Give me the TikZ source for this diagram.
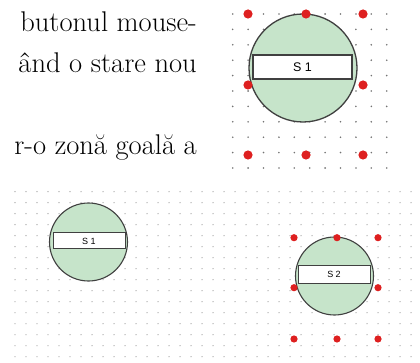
\documentclass[tikz,border=0pt]{standalone}
\usepackage{fontspec}
\newfontfamily\labelfont{Liberation Sans}
\usetikzlibrary{positioning}
\definecolor{stategreen}{RGB}{198,228,202}
\definecolor{handlered}{RGB}{222,32,32}
\tikzset{
  bodytext/.style={anchor=base east, inner sep=0pt, font=\fontsize{28.5}{28.5}\selectfont\addfontfeatures{FakeBold=0.4}},
  statecircle/.style={draw=black!75, circle, fill=stategreen, inner sep=0pt},
  namebox/.style={draw=black!75, fill=white, inner sep=0pt, font=\labelfont},
  handle/.style={fill=handlered},
  bigdot/.style={fill=black!55},
  smalldot/.style={fill=black!35}
}

\begin{document}
\begin{tikzpicture}[x=1pt, y=-1pt]
  \useasboundingbox (0,0) rectangle (420,363);
  \clip (0,0) rectangle (420,363);

  \node[bodytext] (line1) at (197,32) {butonul mouse-};
  \node[bodytext] (line2) at (197,73) {ând o stare nou};
  \node[bodytext] (line3) at (197,155) {r-o zonă goală a};

  \foreach \i in {0,...,10}
    \foreach \j in {0,...,10}
      \fill[bigdot] (232.7+15.4*\i, 14+15.4*\j) circle (0.9);

  \node[statecircle, line width=1.3pt, minimum size=108pt] (s1big) at (303,68) {};
  \node[namebox, line width=1.2pt, minimum width=99pt, minimum height=24pt, font=\labelfont\fontsize{12.5}{12.5}\selectfont] (s1bigname) at (302.5,67) {S 1};

  \foreach \x in {248,306,363}
    \foreach \y in {14,155}
      \fill[handle] (\x,\y) circle (4.6);
  \fill[handle] (248,85) circle (4.6);
  \fill[handle] (363,85) circle (4.6);

  \foreach \i in {0,...,36}
    \foreach \j in {0,...,15}
      \fill[smalldot] (15+11*\i, 191.7+11*\j) circle (0.7);

  \node[statecircle, line width=1.1pt, minimum size=78pt] (s1) at (88.5,242) {};
  \node[namebox, line width=1pt, minimum width=72pt, minimum height=16pt, font=\labelfont\fontsize{9}{9}\selectfont] (s1name) at (89,241) {S 1};

  \node[statecircle, line width=1.1pt, minimum size=78pt] (s2) at (334.5,276) {};
  \node[namebox, line width=1pt, minimum width=72pt, minimum height=17pt, font=\labelfont\fontsize{9}{9}\selectfont] (s2name) at (334,274.5) {S 2};

  \foreach \x in {294,337,378}
    \foreach \y in {237.7,339}
      \fill[handle] (\x,\y) circle (3.6);
  \fill[handle] (294,287.7) circle (3.6);
  \fill[handle] (378,287.7) circle (3.6);
\end{tikzpicture}
\end{document}
